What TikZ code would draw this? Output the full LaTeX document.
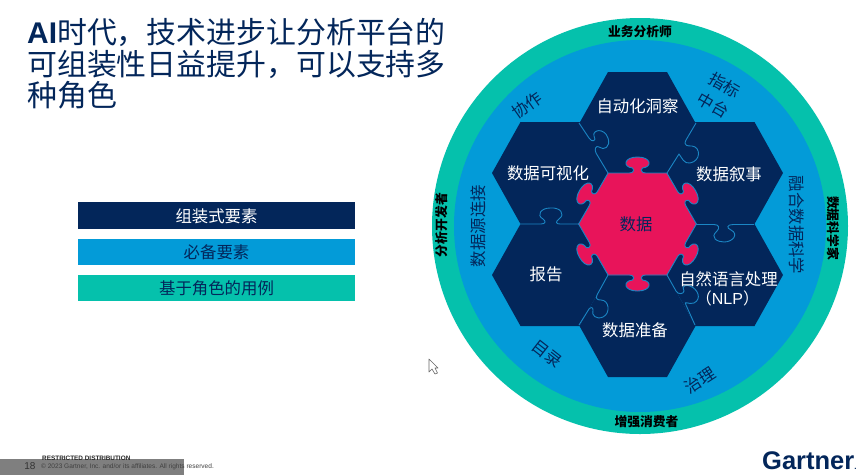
\documentclass[tikz,border=0pt]{standalone}
\usepackage{fontspec}
\setmainfont{Noto Sans CJK SC}
\newfontfamily\latinf{Liberation Sans}
\definecolor{navy}{HTML}{03265A}
\definecolor{ringblue}{HTML}{039BD8}
\definecolor{ringgreen}{HTML}{05C1AC}
\definecolor{hotpink}{HTML}{E8145A}
\definecolor{seam}{HTML}{1B86C4}
\definecolor{footgray}{HTML}{7F7F7F}
\newcommand{\fs}[1]{\fontsize{#1}{#1}\selectfont}
\tikzset{
  x=1pt,y=-1pt,
  hexfill/.style={fill=navy},
  seamline/.style={draw=seam,line width=0.9pt,line join=round},
  hexlabel/.style={inner sep=0,text=white,font=\fs{16.4},align=center},
  ringlabel/.style={inner sep=0,text=navy,font=\fs{16.4},align=center},
  rolelabel/.style={inner sep=0,text=black,font=\fs{12.8}\bfseries},
  legendbar/.style={fill=#1},
  legendtext/.style={inner sep=0,font=\fs{16.4}},
}
\newcommand{\hexat}[2]{\fill[hexfill] (#1-29.5,#2-51)--(#1+29.5,#2-51)--(#1+58,#2)--(#1+29.5,#2+51)--(#1-29.5,#2+51)--(#1-58,#2)--cycle;}
\newcommand{\tabedge}{(-29.5,-51) -- (-8,-51) .. controls (-4,-51) and (-3,-54) .. (-5,-56) .. controls (-15,-57) and (-14,-67) .. (0,-67) .. controls (14,-67) and (15,-57) .. (5,-56) .. controls (3,-54) and (4,-51) .. (8,-51) -- (29.5,-51)}
\begin{document}
\begin{tikzpicture}
\useasboundingbox (0,0) rectangle (865,475);
\fill[white] (0,0) rectangle (865,475);

% title
\node[anchor=north west,inner sep=0,align=left,text=navy,font=\fontsize{29.9}{31.5}\selectfont] (title) at (27,18.5)
  {{\latinf\bfseries AI}时代，技术进步让分析平台的\\
   可组装性日益提升，可以支持多\\
   种角色};

% legend
\fill[legendbar=navy] (78,202) rectangle (355,229);
\fill[legendbar=ringblue] (78,239) rectangle (355,265);
\fill[legendbar=ringgreen] (78,275) rectangle (355,301);
\node[legendtext,text=white] (leg1) at (216.5,216) {组装式要素};
\node[legendtext,text=navy] (leg2) at (216.5,252.5) {必备要素};
\node[legendtext,text=navy] (leg3) at (216.5,288.5) {基于角色的用例};

% rings
\fill[ringgreen] (640,226) circle (208pt);
\fill[ringblue] (640,226) circle (186pt);

% hexagons
\hexat{637.5}{123}
\hexat{550}{173}
\hexat{725}{173}
\hexat{550}{275}
\hexat{725}{275}
\hexat{637.5}{326}

% seams between the outer hexagons
\draw[seamline] (579,123) -- (589,138) .. controls (592,143) and (597,141) .. (594,136)
  .. controls (592,130) and (604,127) .. (608,138) .. controls (611,147) and (604,151) .. (599,147)
  .. controls (596,145) and (594,149) .. (596,153) -- (608,173);
\draw[seamline] (696,123) -- (686,140) .. controls (683,146) and (688,146) .. (692,146)
  .. controls (701,147) and (701,161) .. (690,163) .. controls (684,164) and (682,158) .. (679,154) -- (667,173);
\draw[seamline] (520,224) -- (541,224) .. controls (546,224) and (546,221) .. (543,219)
  .. controls (536,215) and (541,208) .. (550,208) .. controls (560,207) and (566,214) .. (559,219)
  .. controls (555,222) and (556,224) .. (560,224) -- (579,224);
\draw[seamline] (696,224.5) -- (714,224.5) .. controls (719,224.5) and (720,228) .. (717,231)
  .. controls (709,238) and (718,242) .. (724,242) .. controls (733,242) and (739,234) .. (731,230)
  .. controls (726,228) and (727,224.5) .. (733,224.5) -- (754,224.5);
\draw[seamline] (608,275) -- (597,295) .. controls (595,299) and (598,300) .. (601,300)
  .. controls (609,300) and (611,313) .. (603,317) .. controls (596,320) and (591,315) .. (593,310)
  .. controls (593,307) and (591,307) .. (589,309) -- (579,325);
\draw[seamline] (667,275) -- (676,291) .. controls (678,295) and (684,294) .. (684,291)
  .. controls (681,286) and (686,284) .. (690,286) .. controls (698,289) and (702,299) .. (694,303)
  .. controls (689,305) and (683,300) .. (686,305) -- (695,325);

% centre piece
\begin{scope}[shift={(637.5,224)}]
  \fill[hotpink] (-29.5,-51) -- (29.5,-51) -- (58,0) -- (29.5,51) -- (-29.5,51) -- (-58,0) -- cycle;
  \foreach \a in {0,60,...,300}{
    \fill[hotpink,rotate=\a] (0,0) -- \tabedge -- cycle;
  }
  \foreach \a in {0,60,...,300}{
    \draw[seamline,rotate=\a] \tabedge;
  }
\end{scope}

% hexagon labels
\node[hexlabel] (h1) at (637.5,106) {自动化洞察};
\node[hexlabel] (h2) at (548,173) {数据可视化};
\node[hexlabel] (h3) at (729,174) {数据叙事};
\node[hexlabel] (h4) at (546,274) {报告};
\node[hexlabel] (h5) at (728.5,279) {自然语言处理};
\node[hexlabel,font=\fs{16}] (h5b) at (727.5,298) {（{\latinf NLP}）};
\node[hexlabel] (h6) at (635,330) {数据准备};
\node[hexlabel,text=navy] (h0) at (636,224) {数据};

% blue ring labels
\node[ringlabel,rotate=35] (r1) at (527,105) {协作};
\node[ringlabel,rotate=-30,font=\fontsize{16.4}{23}\selectfont] (r2) at (719,95) {指标\\中台};
\node[ringlabel,rotate=-90] (r3) at (797,225) {融合数据科学};
\node[ringlabel,rotate=90] (r4) at (478,226) {数据源连接};
\node[ringlabel,rotate=-38] (r5) at (547,354) {目录};
\node[ringlabel,rotate=33] (r6) at (700,380) {治理};

% role labels
\node[rolelabel] (g1) at (640,32) {业务分析师};
\node[rolelabel] (g2) at (646.5,422) {增强消费者};
\node[rolelabel,rotate=90] (g3) at (442,225) {分析开发者};
\node[rolelabel,rotate=-90] (g4) at (833,228) {数据科学家};

% cursor
\draw[fill=white,draw=black!60,line width=0.6pt,line join=round]
  (429,359) -- (429,372) -- (432,369) -- (435,374) -- (437.5,373) -- (435,368) -- (438,368) -- cycle;

% footer
\fill[footgray] (0,459) rectangle (184,475);
\node[inner sep=0,anchor=west,font=\latinf\fontsize{6.4}{7}\selectfont\bfseries,text=black!85] (f1) at (42,458) {RESTRICTED DISTRIBUTION};
\node[inner sep=0,anchor=west,font=\latinf\fontsize{6.55}{7}\selectfont,text=black!75] (f2) at (41,466.5) {© 2023 Gartner, Inc. and/or its affiliates. All rights reserved.};
\node[inner sep=0,font=\latinf\fontsize{10}{10}\selectfont,text=black!80] (f3) at (30,466) {18};
\node[inner sep=0,anchor=base west,text=navy] (logo) at (762,469.5)
  {\latinf\bfseries\fontsize{25.5}{26}\selectfont Gartner\fontsize{8}{8}\selectfont.};
\end{tikzpicture}
\end{document}
